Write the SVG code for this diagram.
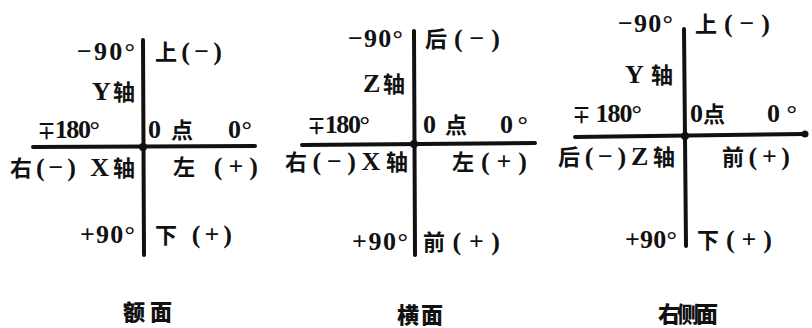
<svg xmlns="http://www.w3.org/2000/svg" width="812" height="328" viewBox="0 0 812 328">
<style>
.ax{stroke:#111;stroke-width:4;stroke-linecap:round;fill:none}
.dot{fill:#111}
text{font-family:"Liberation Serif","Noto Sans CJK SC",serif;font-weight:bold;font-size:26px;fill:#111}
.c{font-family:"Noto Sans CJK SC",sans-serif;font-size:22px;font-weight:bold}
.s{font-size:19px}
.cap{font-family:"Noto Sans CJK SC",sans-serif;font-weight:900;font-size:22px}
</style>
<rect width="812" height="328" fill="#fff"/>
<g id="axes">
<line class="ax" x1="143" y1="40" x2="144" y2="255"/>
<line class="ax" x1="33" y1="147" x2="255" y2="146"/>
<circle class="dot" cx="143" cy="147" r="4"/>
<line class="ax" x1="414" y1="31" x2="415" y2="255"/>
<line class="ax" x1="302" y1="145" x2="535" y2="143"/>
<circle class="dot" cx="414" cy="144" r="4"/>
<line class="ax" x1="684" y1="29" x2="686" y2="246"/>
<line class="ax" x1="575" y1="137" x2="805" y2="134"/>
<circle class="dot" cx="685" cy="136" r="4"/>
<circle class="dot" cx="805" cy="134" r="3.5"/>
</g>
<g id="frontal">
<text x="77" y="60" textLength="58" lengthAdjust="spacing">−90°</text>
<text x="155" y="60" textLength="67" lengthAdjust="spacing"><tspan class="c">上</tspan>(−)</text>
<text x="92" y="100" textLength="43" lengthAdjust="spacing">Y<tspan class="c">轴</tspan></text>
<text x="37" y="138" textLength="63" lengthAdjust="spacing"><tspan class="s">∓</tspan>180°</text>
<text x="148" y="138" textLength="45" lengthAdjust="spacing">0 <tspan class="c">点</tspan></text>
<text x="228" y="138" textLength="24" lengthAdjust="spacing">0°</text>
<text x="10" y="176" textLength="125" lengthAdjust="spacing"><tspan class="c">右</tspan>(−) X<tspan class="c">轴</tspan></text>
<text x="173" y="175" textLength="85" lengthAdjust="spacing"><tspan class="c">左</tspan> (+)</text>
<text x="80" y="243" textLength="55" lengthAdjust="spacing">+90°</text>
<text x="155" y="243" textLength="77" lengthAdjust="spacing"><tspan class="c">下</tspan> (+)</text>
<text class="cap" x="123" y="320" textLength="49" lengthAdjust="spacing">额面</text>
</g>
<g id="transverse">
<text x="348" y="47" textLength="55" lengthAdjust="spacing">−90°</text>
<text x="425" y="47" textLength="75" lengthAdjust="spacing"><tspan class="c">后</tspan>(−)</text>
<text x="363" y="92" textLength="42" lengthAdjust="spacing">Z<tspan class="c">轴</tspan></text>
<text x="307" y="133" textLength="63" lengthAdjust="spacing"><tspan class="s">∓</tspan>180°</text>
<text x="423" y="133" textLength="44" lengthAdjust="spacing">0 <tspan class="c">点</tspan></text>
<text x="500" y="133" textLength="28" lengthAdjust="spacing">0°</text>
<text x="285" y="170" textLength="123" lengthAdjust="spacing"><tspan class="c">右</tspan>(−)X<tspan class="c">轴</tspan></text>
<text x="452" y="170" textLength="75" lengthAdjust="spacing"><tspan class="c">左</tspan>(+)</text>
<text x="352" y="250" textLength="56" lengthAdjust="spacing">+90°</text>
<text x="423" y="250" textLength="77" lengthAdjust="spacing"><tspan class="c">前</tspan>(+)</text>
<text class="cap" x="397" y="323" textLength="46" lengthAdjust="spacing">横面</text>
</g>
<g id="sagittal">
<text x="618" y="32" textLength="55" lengthAdjust="spacing">−90°</text>
<text x="695" y="32" textLength="75" lengthAdjust="spacing"><tspan class="c">上</tspan>(−)</text>
<text x="625" y="83" textLength="48" lengthAdjust="spacing">Y<tspan class="c">轴</tspan></text>
<text x="572" y="122" textLength="70" lengthAdjust="spacing"><tspan class="s">∓</tspan> 180°</text>
<text x="690" y="122">0<tspan class="c">点</tspan></text>
<text x="767" y="122" textLength="30" lengthAdjust="spacing">0°</text>
<text x="558" y="165" textLength="117" lengthAdjust="spacing"><tspan class="c">后</tspan>(−)Z<tspan class="c">轴</tspan></text>
<text x="722" y="165" textLength="68" lengthAdjust="spacing"><tspan class="c">前</tspan>(+)</text>
<text x="625" y="248" textLength="52" lengthAdjust="spacing">+90°</text>
<text x="697" y="248" textLength="75" lengthAdjust="spacing"><tspan class="c">下</tspan>(+)</text>
<text class="cap" x="658" y="322" textLength="60" lengthAdjust="spacing">右侧面</text>
</g>
</svg>
